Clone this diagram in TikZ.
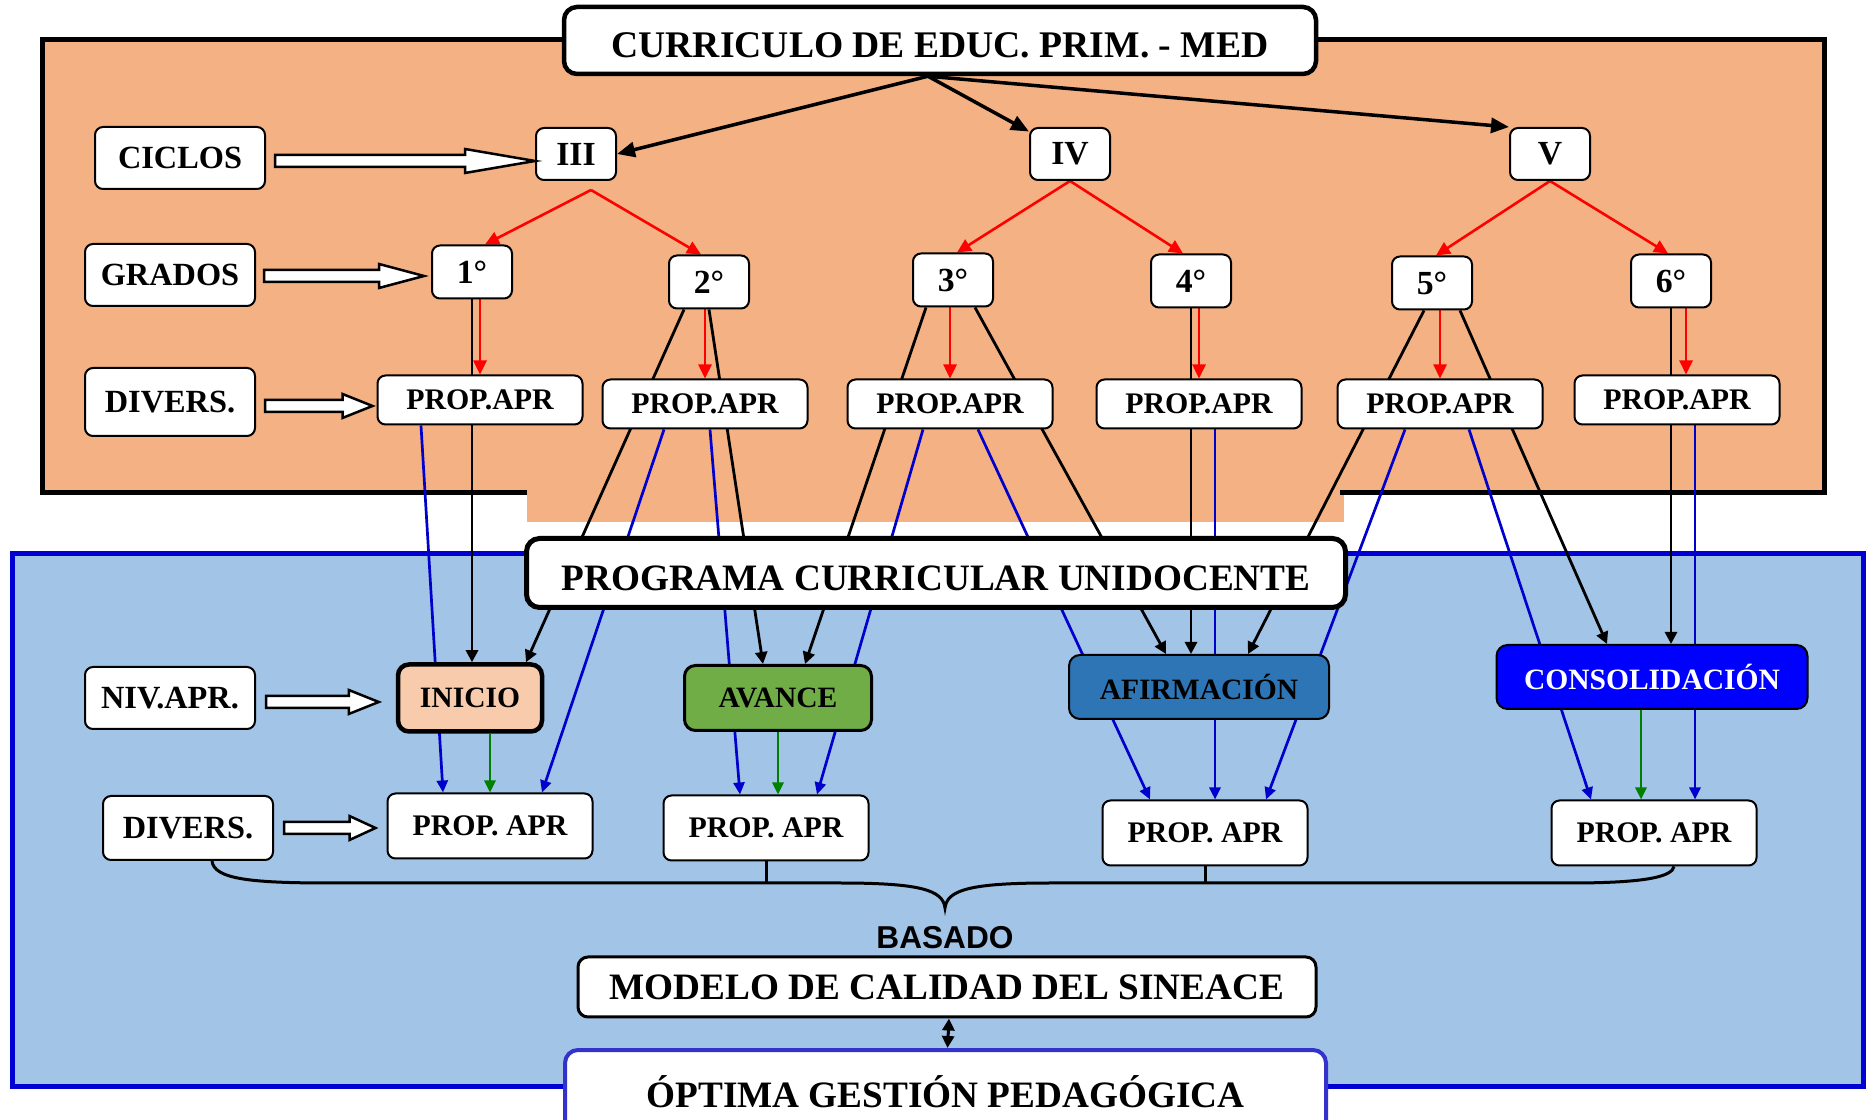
\documentclass[tikz,border=0pt]{standalone}
\usepackage{fontspec}
\setmainfont{Liberation Serif}
\setsansfont{Liberation Sans}
\usetikzlibrary{arrows.meta,calc}

\definecolor{peach}{HTML}{F4B183}
\definecolor{skyfill}{HTML}{A2C4E6}
\definecolor{frameblue}{RGB}{0,0,210}
\definecolor{wireblue}{RGB}{0,0,205}
\definecolor{wiregreen}{RGB}{0,128,0}
\definecolor{iniciofill}{HTML}{F8CBAD}
\definecolor{avancefill}{HTML}{70AD47}
\definecolor{afirmfill}{HTML}{2E75B6}
\definecolor{optborder}{RGB}{51,51,204}

\pgfdeclarelayer{back}
\pgfdeclarelayer{wires}
\pgfsetlayers{back,wires,main}

\begin{document}
\begin{tikzpicture}[x=0.1mm, y=-0.1mm,
  box/.style={draw, fill=white, rounded corners=0.8mm, line width=0.2mm, inner sep=0pt, align=center},
  headbox/.style={box, line width=0.45mm, rounded corners=1.3mm, font=\bfseries\fontsize{10.7}{12}\selectfont},
  sidebox/.style={box, minimum width=17mm, minimum height=6.2mm, font=\bfseries\fontsize{9.2}{10}\selectfont},
  cyclebox/.style={box, minimum width=8mm, minimum height=5.2mm, font=\bfseries\fontsize{9.6}{10}\selectfont},
  gradebox/.style={box, minimum width=8mm, minimum height=5.3mm, font=\bfseries\fontsize{9.6}{10}\selectfont},
  propbox/.style={box, minimum width=20.5mm, minimum height=4.9mm, font=\bfseries\fontsize{8.5}{10}\selectfont},
  aprbox/.style={box, minimum width=20.5mm, minimum height=6.5mm, font=\bfseries\fontsize{8.5}{10}\selectfont},
  levelbox/.style={box, rounded corners=1.1mm, minimum height=6.5mm, font=\bfseries\fontsize{8.4}{10}\selectfont},
  headarrow/.style={-{Triangle[length=1.8mm,width=1.5mm]}, line width=0.35mm},
  redarrow/.style={-{Triangle[length=1.4mm,width=1.3mm]}, red, line width=0.26mm},
  blackwire/.style={-{Triangle[length=1.2mm,width=1.2mm]}, line width=0.28mm},
  bluewire/.style={-{Triangle[length=1.2mm,width=1.1mm]}, wireblue, line width=0.27mm},
  greenwire/.style={-{Triangle[length=1.2mm,width=1.1mm]}, wiregreen, line width=0.27mm},
  hollow/.style={draw, fill=white, line width=0.25mm,
    to path={let \p1=(\tikztostart), \p2=(\tikztotarget) in
      (\x1,\y1+0.6mm) -- (\x2-#1,\y1+0.6mm) -- (\x2-#1,\y1+1.2mm) -- (\x2,\y1)
      -- (\x2-#1,\y1-1.2mm) -- (\x2-#1,\y1-0.6mm) -- (\x1,\y1-0.6mm) -- cycle}},
  hollow/.default=4mm,
  brace/.style={line width=0.3mm}]

  \useasboundingbox (0,0) rectangle (1866,1120);

  % the two coloured areas
  \begin{pgfonlayer}{back}
    \fill[peach] (42,40) rectangle (1824,493);
    \fill[peach] (527,480) rectangle (1344,522);
    \draw[line width=0.5mm] (527,493) -- (42,493) -- (42,40) -- (1824,40) -- (1824,493) -- (1340,493);
    \draw[fill=skyfill, draw=frameblue, line width=0.5mm] (12,554) rectangle (1863,1086);
  \end{pgfonlayer}

  % top part
  \node[headbox, minimum width=75.2mm, minimum height=6.7mm, text height=9.6pt] (title) at (940,40.5) {CURRICULO DE EDUC. PRIM. - MED};

  \node[sidebox] (ciclos) at (180,158) {CICLOS};
  \node[sidebox] (grados) at (170,275) {GRADOS};
  \node[sidebox, minimum height=6.8mm] (diversA) at (170,402) {DIVERS.};

  \node[cyclebox] (ciclo3) at (576,154) {III};
  \node[cyclebox] (ciclo4) at (1070,154) {IV};
  \node[cyclebox] (ciclo5) at (1550,154) {V};

  \node[gradebox] (grado1) at (472,272) {1°};
  \node[gradebox] (grado2) at (709,282) {2°};
  \node[gradebox] (grado3) at (953,280) {3°};
  \node[gradebox] (grado4) at (1191,281) {4°};
  \node[gradebox] (grado5) at (1432,283) {5°};
  \node[gradebox] (grado6) at (1671,281) {6°};

  \node[propbox] (propA1) at (480,400) {PROP.APR};
  \node[propbox] (propA2) at (705,404) {PROP.APR};
  \node[propbox] (propA3) at (950,404) {PROP.APR};
  \node[propbox] (propA4) at (1199,404) {PROP.APR};
  \node[propbox] (propA5) at (1440,404) {PROP.APR};
  \node[propbox] (propA6) at (1677,400) {PROP.APR};

  % bottom part
  \node[headbox, line width=0.5mm, minimum width=81.9mm, minimum height=6.9mm, text height=10.1pt, font=\bfseries\fontsize{10.6}{12}\selectfont] (programa) at (936,573) {PROGRAMA CURRICULAR UNIDOCENTE};

  \node[sidebox] (nivapr) at (170,698) {NIV.APR.};
  \node[sidebox, minimum height=6.4mm] (diversB) at (188,828) {DIVERS.};

  \node[levelbox, fill=iniciofill, line width=0.45mm, minimum width=14.4mm, minimum height=6.7mm] (inicio) at (470,698) {INICIO};
  \node[levelbox, fill=avancefill, line width=0.3mm, minimum width=18.7mm] (avance) at (778,698) {AVANCE};
  \node[levelbox, fill=afirmfill, minimum width=26mm, minimum height=6.4mm] (afirmacion) at (1199,687) {AFIRMACIÓN};
  \node[levelbox, fill=blue, text=white, minimum width=31.1mm, minimum height=6.4mm] (consolidacion) at (1652,677) {CONSOLIDACIÓN};

  \node[aprbox] (propB1) at (490,826) {PROP. APR};
  \node[aprbox] (propB2) at (766,828) {PROP. APR};
  \node[aprbox] (propB3) at (1205,833) {PROP. APR};
  \node[aprbox] (propB4) at (1654,833) {PROP. APR};

  \node[font=\sffamily\bfseries\fontsize{9}{10}\selectfont] (basado) at (945,938) {BASADO};
  \node[headbox, line width=0.3mm, rounded corners=1mm, minimum width=73.8mm, minimum height=6mm, font=\bfseries\fontsize{10.6}{12}\selectfont] (modelo) at (947,987) {MODELO DE CALIDAD DEL SINEACE};
  \node[headbox, draw=optborder, line width=0.4mm, rounded corners=1.3mm, minimum width=76.1mm, minimum height=8.4mm, font=\bfseries\fontsize{10.6}{12}\selectfont] (optima) at (945.5,1092) {ÓPTIMA GESTIÓN PEDAGÓGICA};

  \coordinate (fork) at ($(title.south)+(-12,0)$);
  \coordinate (bracemid) at (945,883);
  \coordinate (bracetip) at (945,908);
  \coordinate (wireA4) at ($(propA4.south)+(16,0)$);
  \coordinate (wireA6) at ($(propA6.south)+(18,0)$);
  \coordinate (greenC) at ($(consolidacion.south)+(-11,0)$);

  % hollow arrows from the row labels
  \path[hollow=7mm] ($(ciclos.east)+(9,3)$) to (ciclo3.west);
  \path[hollow=4.5mm] ($(grados.east)+(8,1)$) to ($(grado1.west)+(-7,0)$);
  \path[hollow=3mm] ($(diversA.east)+(9,4)$) to ($(propA1.west)+(-4,0)$);
  \path[hollow=3mm] ($(nivapr.east)+(10,4)$) to ($(inicio.west)+(-17,0)$);
  \path[hollow=2.6mm] ($(diversB.east)+(10,0)$) to ($(propB1.west)+(-11,0)$);

  \begin{pgfonlayer}{wires}
    \draw[headarrow] (fork) -- (ciclo3.east);
    \draw[headarrow] (fork) -- (ciclo4);
    \draw[headarrow] (fork) -- (ciclo5.north west);

    \draw[redarrow] ($(ciclo3.south)+(15,9)$) -- ($(grado1.north)+(13,0)$);
    \draw[redarrow] ($(ciclo3.south)+(15,9)$) -- ($(grado2.north)+(-8,0)$);
    \draw[redarrow] (ciclo4.south) -- ($(grado3.north)+(4,0)$);
    \draw[redarrow] (ciclo4.south) -- ($(grado4.north)+(-8,0)$);
    \draw[redarrow] (ciclo5.south) -- ($(grado5.north)+(4,0)$);
    \draw[redarrow] (ciclo5.south) -- ($(grado6.north)+(-3,0)$);

    \draw[redarrow] (grado1.south -| propA1.north) -- (propA1.north);
    \draw[redarrow] (grado2.south -| propA2.north) -- (propA2.north);
    \draw[redarrow] (grado3.south -| propA3.north) -- (propA3.north);
    \draw[redarrow] (grado4.south -| propA4.north) -- (propA4.north);
    \draw[redarrow] (grado5.south -| propA5.north) -- (propA5.north);
    \draw[redarrow] ($(grado6.south)+(15,0)$) -- ($(propA6.north)+(9,0)$);

    % grades to levels
    \draw[blackwire] (grado1.south) -- (grado1.south |- inicio.north);
    \draw[blackwire] ($(grado2.south)+(-25,0)$) -- ($(inicio.north)+(56,0)$);
    \draw[blackwire] (grado2.south) -- ($(avance.north)+(-15,0)$);
    \draw[blackwire] ($(grado3.south)+(-27,0)$) -- ($(avance.north)+(27,0)$);
    \draw[blackwire] ($(grado3.south)+(22,0)$) -- ($(afirmacion.north)+(-33,0)$);
    \draw[blackwire] (grado4.south) -- (grado4.south |- afirmacion.north);
    \draw[blackwire] ($(grado5.south)+(-8,0)$) -- ($(afirmacion.north)+(49,0)$);
    \draw[blackwire] ($(grado5.south)+(28,0)$) -- ($(consolidacion.north)+(-45,0)$);
    \draw[blackwire] (grado6.south) -- (grado6.south |- consolidacion.north);

    % learning purposes
    \draw[bluewire] ($(propA1.south)+(-59,0)$) -- ($(propB1.north)+(-47,0)$);
    \draw[bluewire] ($(propA2.south)+(-41,0)$) -- ($(propB1.north)+(52,0)$);
    \draw[bluewire] ($(propA2.south)+(5,0)$) -- ($(propB2.north)+(-26,0)$);
    \draw[bluewire] ($(propA3.south)+(-27,0)$) -- ($(propB2.north)+(51,0)$);
    \draw[bluewire] ($(propA3.south)+(28,0)$) -- ($(propB3.north)+(-55,0)$);
    \draw[bluewire] (wireA4) -- (wireA4 |- propB3.north);
    \draw[bluewire] ($(propA5.south)+(-35,0)$) -- ($(propB3.north)+(61,0)$);
    \draw[bluewire] ($(propA5.south)+(29,0)$) -- ($(propB4.north)+(-63,0)$);
    \draw[bluewire] (wireA6) -- (wireA6 |- propB4.north);

    \draw[greenwire] (propB1.north |- inicio.south) -- (propB1.north);
    \draw[greenwire] (avance.south) -- (avance.south |- propB2.north);
    \draw[greenwire] (greenC) -- (greenC |- propB4.north);

    \draw[{Triangle[length=1.2mm,width=1.2mm]}-{Triangle[length=1.2mm,width=1.2mm]}, line width=0.3mm] ($(modelo.south)+(2,0)$) -- ($(optima.north)+(2,0)$);
  \end{pgfonlayer}

  % brace under the purposes
  \draw[brace] ($(diversB.south)+(24,0)$) .. controls +(2,18) and (250,883) .. (330,883)
    -- (840,883) .. controls (920,883) and (943,890) .. (bracetip)
    .. controls (947,890) and (970,883) .. (1050,883)
    -- (1570,883) .. controls (1650,883) and (1672,876) .. ($(propB4.south)+(20,0)$);
  \draw[brace] (propB2.south) -- (propB2.south |- bracemid);
  \draw[brace] (propB3.south) -- (propB3.south |- bracemid);

\end{tikzpicture}
\end{document}
